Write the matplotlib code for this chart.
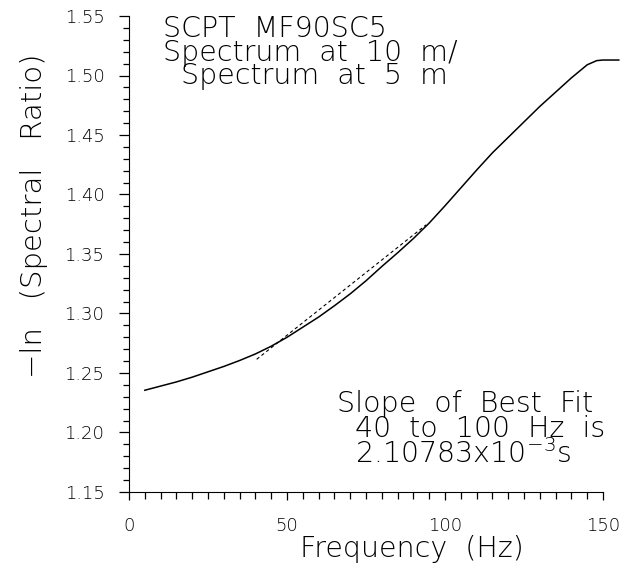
import numpy as np
import matplotlib
matplotlib.use('Agg')
import matplotlib.pyplot as plt
from matplotlib.ticker import MultipleLocator, FormatStrFormatter

# spectral ratio curve
freq = [5, 10, 15, 20, 25, 30, 35, 40, 45, 50, 55, 60, 65, 70, 75, 80, 85, 90,
        95, 100, 105, 110, 115, 120, 125, 130, 135, 140, 145, 148, 150, 155]
ratio = [1.2355, 1.239, 1.2425, 1.2465, 1.251, 1.2555, 1.2605, 1.266, 1.2725,
         1.280, 1.2885, 1.297, 1.3065, 1.3165, 1.3275, 1.3395, 1.351, 1.363,
         1.376, 1.3905, 1.4055, 1.4205, 1.435, 1.448, 1.461, 1.474, 1.486, 1.498,
         1.509, 1.5125, 1.513, 1.513]

# best fit line over the 40-100 Hz band
fit_start = 40.4
fit_end = 94.0
fit_intercept = 1.2615
fit_slope = 2.10783e-3

title_lines = ['SCPT  MF90SC5', 'Spectrum  at  10  m/', '  Spectrum  at  5  m']
fit_lines = ['Slope  of  Best  Fit', '  40  to  100  Hz  is', '  2.10783x10$^{-3}$s']

plt.rcParams['font.family'] = 'DejaVu Sans'
plt.rcParams['font.weight'] = 'light'
W, H = 634, 569

fig = plt.figure(figsize=(W / 100, H / 100), dpi=100)
ax = fig.add_axes([129 / W, 1 - 492 / H, (603 - 129) / W, (492 - 16) / H])

ax.plot(freq, ratio, color='black', lw=1.1, clip_on=False)
fx = np.array([fit_start, fit_end])
ax.plot(fx, fit_intercept + fit_slope * (fx - fit_start), color='black', lw=0.8,
        dashes=(3, 2.5))

ax.set_xlim(0, 150)
ax.set_ylim(1.15, 1.55)
ax.xaxis.set_major_locator(MultipleLocator(50))
ax.xaxis.set_minor_locator(MultipleLocator(5))
ax.yaxis.set_major_locator(MultipleLocator(0.05))
ax.yaxis.set_minor_locator(MultipleLocator(0.01))
ax.yaxis.set_major_formatter(FormatStrFormatter('%.2f'))

ax.spines['top'].set_visible(False)
ax.spines['right'].set_visible(False)
ax.tick_params(axis='x', which='major', direction='out', length=5.8, width=0.9, pad=12.5,
               labelsize=13, labelcolor='black')
ax.tick_params(axis='x', which='minor', direction='out', length=5.2, width=0.9)
ax.tick_params(axis='y', which='major', direction='out', length=7.2, width=0.9, pad=10.5,
               labelsize=13, labelcolor='black')
ax.tick_params(axis='y', which='minor', direction='out', length=4.3, width=0.9)

fs = 20.5
fig.text(42 / W, 1 - 53 / H, '\u2212ln   (Spectral   Ratio)', rotation=90,
         rotation_mode='anchor', ha='right', va='baseline', fontsize=21)
fig.text(412 / W, 1 - 557 / H, 'Frequency  (Hz)', ha='center', va='baseline', fontsize=fs)

fig.text(163 / W, 1 - 15 / H, '\n'.join(title_lines), ha='left', va='top',
         fontsize=fs, linespacing=0.8)
fig.text(337 / W, 1 - 390 / H, '\n'.join(fit_lines), ha='left', va='top',
         fontsize=fs, linespacing=0.85)

fig.savefig('out.png', dpi=100)
